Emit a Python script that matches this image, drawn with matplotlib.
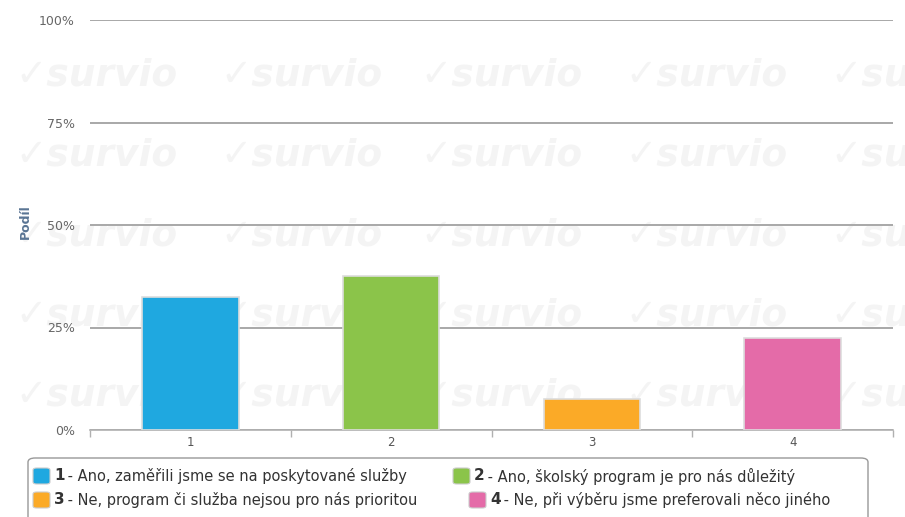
import matplotlib
matplotlib.use("Agg")
import matplotlib.pyplot as plt
from matplotlib.patches import FancyBboxPatch

# data
categories = ["1", "2", "3", "4"]
shares = [32.5, 37.5, 7.5, 22.5]
colors = ["#1fa8e0", "#8bc44a", "#fbaa27", "#e46ba8"]
legend_texts = [
    " - Ano, zaměřili jsme se na poskytované služby",
    " - Ano, školský program je pro nás důležitý",
    " - Ne, program či služba nejsou pro nás prioritou",
    " - Ne, při výběru jsme preferovali něco jiného",
]
yticks = [0, 25, 50, 75, 100]

plt.rcParams['font.family'] = ['DejaVu Sans']

W, H = 905, 517
fig = plt.figure(figsize=(W / 100, H / 100), dpi=100)

# watermark in a background axes
bg = fig.add_axes([0, 0, 1, 1], zorder=-1)
bg.set_xlim(0, W)
bg.set_ylim(H, 0)
bg.axis('off')
for yy in [75, 155, 235, 315, 395]:
    for xx in [15, 220, 420, 625, 830]:
        bg.text(xx, yy, "✓survio", fontsize=27, fontstyle='italic', fontweight='bold',
                color="#f4f4f4", va='center', ha='left', clip_on=True)

ax = fig.add_axes([90 / W, 1 - 430 / H, (893 - 90) / W, (430 - 20) / H])
ax.patch.set_alpha(0)
x = list(range(len(categories)))
ax.bar(x, shares, width=0.48, color=colors, edgecolor="#dddddd", linewidth=1.2, zorder=3)

ax.set_xlim(-0.5, len(categories) - 0.5)
ax.set_ylim(0, 100)
ax.set_yticks(yticks)
ax.set_yticklabels([f"{t}%" for t in yticks], fontsize=9, color="#666666")
ax.yaxis.grid(True, color="#a8a8a8", linewidth=1.4, zorder=1)
ax.tick_params(axis='y', length=0, pad=11)

ax.set_xticks(x)
ax.set_xticklabels(categories, fontsize=8.5, color="#555555")
ax.set_xticks([i - 0.5 for i in range(len(categories) + 1)], minor=True)
ax.tick_params(axis='x', which='major', length=0, pad=4)
ax.tick_params(axis='x', which='minor', length=5, color="#b0b0b0", width=1)

for s in ['top', 'right', 'left']:
    ax.spines[s].set_visible(False)
ax.spines['bottom'].set_color("#b0b0b0")
ax.spines['bottom'].set_linewidth(1.2)

fig.text(25 / W, 1 - 222 / H, "Podíl", rotation=90, fontsize=9, fontweight='bold',
         color="#5a7594", ha='center', va='center')

# legend box
box = FancyBboxPatch((28 / W, -0.05), (868 - 28) / W, 0.05 + (517 - 458) / H,
                     boxstyle="round,pad=0,rounding_size=0.008", transform=fig.transFigure,
                     facecolor="white", edgecolor="#999999", linewidth=1.0, zorder=1)
fig.patches.append(box)

positions = [(33, 476), (453, 476), (33, 500), (469, 500)]
for i, (px, py) in enumerate(positions):
    sq = FancyBboxPatch((px / W, 1 - (py + 8) / H), 17 / W, 16 / H,
                        boxstyle="round,pad=0,rounding_size=0.004", transform=fig.transFigure,
                        facecolor=colors[i], edgecolor="#cccccc", linewidth=0.8, zorder=2)
    fig.patches.append(sq)
    fig.text((px + 21) / W, 1 - py / H, categories[i], fontsize=11, fontweight='bold',
             color="#333333", va='center', ha='left')
    fig.text((px + 30) / W, 1 - py / H, legend_texts[i], fontsize=10.5,
             color="#333333", va='center', ha='left')

fig.savefig("out.png", dpi=100)
